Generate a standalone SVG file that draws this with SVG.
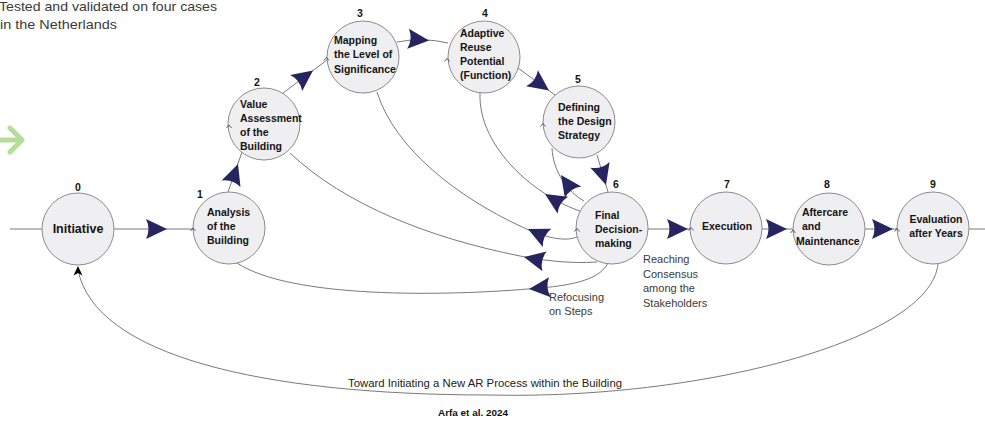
<svg xmlns="http://www.w3.org/2000/svg" xmlns:xlink="http://www.w3.org/1999/xlink" width="985" height="421" viewBox="0 0 985 421">
<style>
.node circle{fill:#efeef0;stroke:#8c8c8c;stroke-width:1}
.nt{font-family:"Liberation Sans",Arial,sans-serif;font-weight:bold;font-size:10.5px;fill:#141414}
.num{font-family:"Liberation Sans",Arial,sans-serif;font-weight:bold;font-size:10.5px;fill:#141414;text-anchor:middle}
.lbl{font-family:"Liberation Sans",Arial,sans-serif;font-size:11px;fill:#3a3a3a}
.con path,.con line{fill:none;stroke:#6a6a6a;stroke-width:0.9}
.car{fill:none;stroke:#333;stroke-width:0.8}
.ah{fill:#272560}
</style>
<defs>
<path id="ah" class="ah" d="M0,0 L-21,-10 Q-16,0 -21,10 Z"/>
<polyline id="car" class="car" points="-2.5,2 0,-1 2.5,2"/>
</defs>

<g id="note">
<text class="lbl" x="-1" y="10.5" textLength="218" lengthAdjust="spacingAndGlyphs" style="font-size:13.5px">Tested and validated on four cases</text>
<text class="lbl" x="0" y="29" textLength="117" lengthAdjust="spacingAndGlyphs" style="font-size:13.5px">in the Netherlands</text>
</g>
<g id="green-arrow" fill="none" stroke="#acda8f" stroke-width="5" stroke-linecap="round" stroke-linejoin="round" opacity="0.9">
<line x1="-3" y1="140" x2="20" y2="140"/>
<polyline points="10,128 22,140 10,152"/>
</g>

<g class="con" id="connectors">
<line x1="10" y1="229" x2="42" y2="229"/>
<line x1="114" y1="229" x2="193" y2="229"/>
<line x1="228" y1="192" x2="242" y2="152"/>
<line x1="283" y1="93" x2="327" y2="60"/>
<path d="M397,42 Q423,37 448,43"/>
<line x1="518" y1="68" x2="555" y2="95"/>
<line x1="597" y1="155" x2="608" y2="192"/>
<line x1="648" y1="229" x2="690" y2="229"/>
<line x1="762" y1="229" x2="793" y2="229"/>
<line x1="865" y1="229" x2="897" y2="229"/>
<line x1="969" y1="229" x2="985" y2="229"/>
<path d="M584,201 C568,192 553,172 552,148"/>
<path d="M580,211 C540,198 478,150 480,93"/>
<path d="M577,237 C565,242 545,238 520,226 C460,198 395,150 377,92"/>
<path d="M597,262 C570,264 540,260 520,256 C430,238 345,205 290,153"/>
<path d="M608,263 C600,279 575,285 540,288 C440,297 290,298 237,263"/>
<path d="M938,264 C930,340 700,400 490,395 C260,395 95,355 78,270"/>
<path d="M78,266 L73.5,275.5 L78,273 L82.5,275.5 Z" style="fill:#000;stroke:none"/>
<use xlink:href="#ah" href="#ah" transform="translate(167,229)"/>
<use xlink:href="#ah" href="#ah" transform="translate(238,164) rotate(-70.7)"/>
<use xlink:href="#ah" href="#ah" transform="translate(313,70.5) rotate(-36.9)"/>
<use xlink:href="#ah" href="#ah" transform="translate(429,40.5) rotate(5)"/>
<use xlink:href="#ah" href="#ah" transform="translate(549,90.6) rotate(36.1)"/>
<use xlink:href="#ah" href="#ah" transform="translate(606,185) rotate(73.4)"/>
<use xlink:href="#ah" href="#ah" transform="translate(688,229)"/>
<use xlink:href="#ah" href="#ah" transform="translate(787,229)"/>
<use xlink:href="#ah" href="#ah" transform="translate(893,229)"/>
<use xlink:href="#ah" href="#ah" transform="translate(561,175) rotate(-125)"/>
<use xlink:href="#ah" href="#ah" transform="translate(545,194) rotate(-148)"/>
<use xlink:href="#ah" href="#ah" transform="translate(528,229) rotate(-155)"/>
<use xlink:href="#ah" href="#ah" transform="translate(524,257) rotate(-168)"/>
<use xlink:href="#ah" href="#ah" transform="translate(529,289) rotate(175)"/>
</g>

<g id="node0" class="node"><circle cx="78" cy="229" r="36"/>
<text class="num" x="78" y="191">0</text>
<text class="nt" x="78" y="233" text-anchor="middle" style="font-size:12.5px">Initiative</text></g>

<g id="node1" class="node"><circle cx="229" cy="228" r="36"/>
<text class="num" x="200" y="198">1</text>
<text class="nt" x="207" y="215.5">Analysis</text>
<text class="nt" x="207" y="229.5">of the</text>
<text class="nt" x="207" y="243.5">Building</text></g>

<g id="node2" class="node"><circle cx="264" cy="124" r="36"/>
<text class="num" x="257" y="86">2</text>
<text class="nt" x="240" y="107.5">Value</text>
<text class="nt" x="240" y="121.5">Assessment</text>
<text class="nt" x="240" y="135.5">of the</text>
<text class="nt" x="240" y="149.5">Building</text></g>

<g id="node3" class="node"><circle cx="363" cy="57" r="36"/>
<text class="num" x="360" y="17">3</text>
<text class="nt" x="334" y="44">Mapping</text>
<text class="nt" x="334" y="58">the Level of</text>
<text class="nt" x="334" y="72.5">Significance</text></g>

<g id="node4" class="node"><circle cx="484" cy="57" r="36"/>
<text class="num" x="485" y="17">4</text>
<text class="nt" x="460" y="36.5">Adaptive</text>
<text class="nt" x="460" y="50.5">Reuse</text>
<text class="nt" x="460" y="65">Potential</text>
<text class="nt" x="460" y="79">(Function)</text></g>

<g id="node5" class="node"><circle cx="579" cy="122" r="36"/>
<text class="num" x="578" y="83">5</text>
<text class="nt" x="558" y="110.5">Defining</text>
<text class="nt" x="558" y="124.5">the Design</text>
<text class="nt" x="558" y="139">Strategy</text></g>

<g id="node6" class="node"><circle cx="612" cy="228" r="36"/>
<text class="num" x="616" y="188">6</text>
<text class="nt" x="595" y="219">Final</text>
<text class="nt" x="595" y="233">Decision-</text>
<text class="nt" x="595" y="247">making</text></g>

<g id="node7" class="node"><circle cx="726" cy="228" r="36"/>
<text class="num" x="727" y="188">7</text>
<text class="nt" x="702" y="230">Execution</text></g>

<g id="node8" class="node"><circle cx="829" cy="229" r="36"/>
<text class="num" x="827" y="188">8</text>
<text class="nt" x="802" y="215.5">Aftercare</text>
<text class="nt" x="802" y="230">and</text>
<text class="nt" x="796" y="244.5">Maintenance</text></g>

<g id="node9" class="node"><circle cx="933" cy="228" r="36"/>
<text class="num" x="933" y="188">9</text>
<text class="nt" x="936" y="222.5" text-anchor="middle">Evaluation</text>
<text class="nt" x="936" y="236.5" text-anchor="middle">after Years</text></g>

<g id="carets">
<use xlink:href="#car" href="#car" transform="translate(193,229)"/>
<use xlink:href="#car" href="#car" transform="translate(229,126)"/>
<use xlink:href="#car" href="#car" transform="translate(326.5,58.5)"/>
<use xlink:href="#car" href="#car" transform="translate(447,59.5)"/>
<use xlink:href="#car" href="#car" transform="translate(543,124.5)"/>
<use xlink:href="#car" href="#car" transform="translate(577,229.5)"/>
<use xlink:href="#car" href="#car" transform="translate(691,228.5)"/>
<use xlink:href="#car" href="#car" transform="translate(793,231)"/>
<use xlink:href="#car" href="#car" transform="translate(897,229.5)"/>
</g>

<g id="labels">
<text class="lbl" x="549" y="300.5">Refocusing</text>
<text class="lbl" x="549" y="314.5">on Steps</text>
<text class="lbl" x="643" y="263">Reaching</text>
<text class="lbl" x="643" y="277.5">Consensus</text>
<text class="lbl" x="643" y="292">among the</text>
<text class="lbl" x="643" y="306.5">Stakeholders</text>
<text class="lbl" x="348" y="386.5" textLength="274" lengthAdjust="spacingAndGlyphs" style="font-size:11px;fill:#222">Toward Initiating a New AR Process within the Building</text>
<text class="lbl" x="438" y="416" textLength="70" lengthAdjust="spacingAndGlyphs" style="font-size:9.5px;font-weight:bold;fill:#111">Arfa et al. 2024</text>
</g>
</svg>
